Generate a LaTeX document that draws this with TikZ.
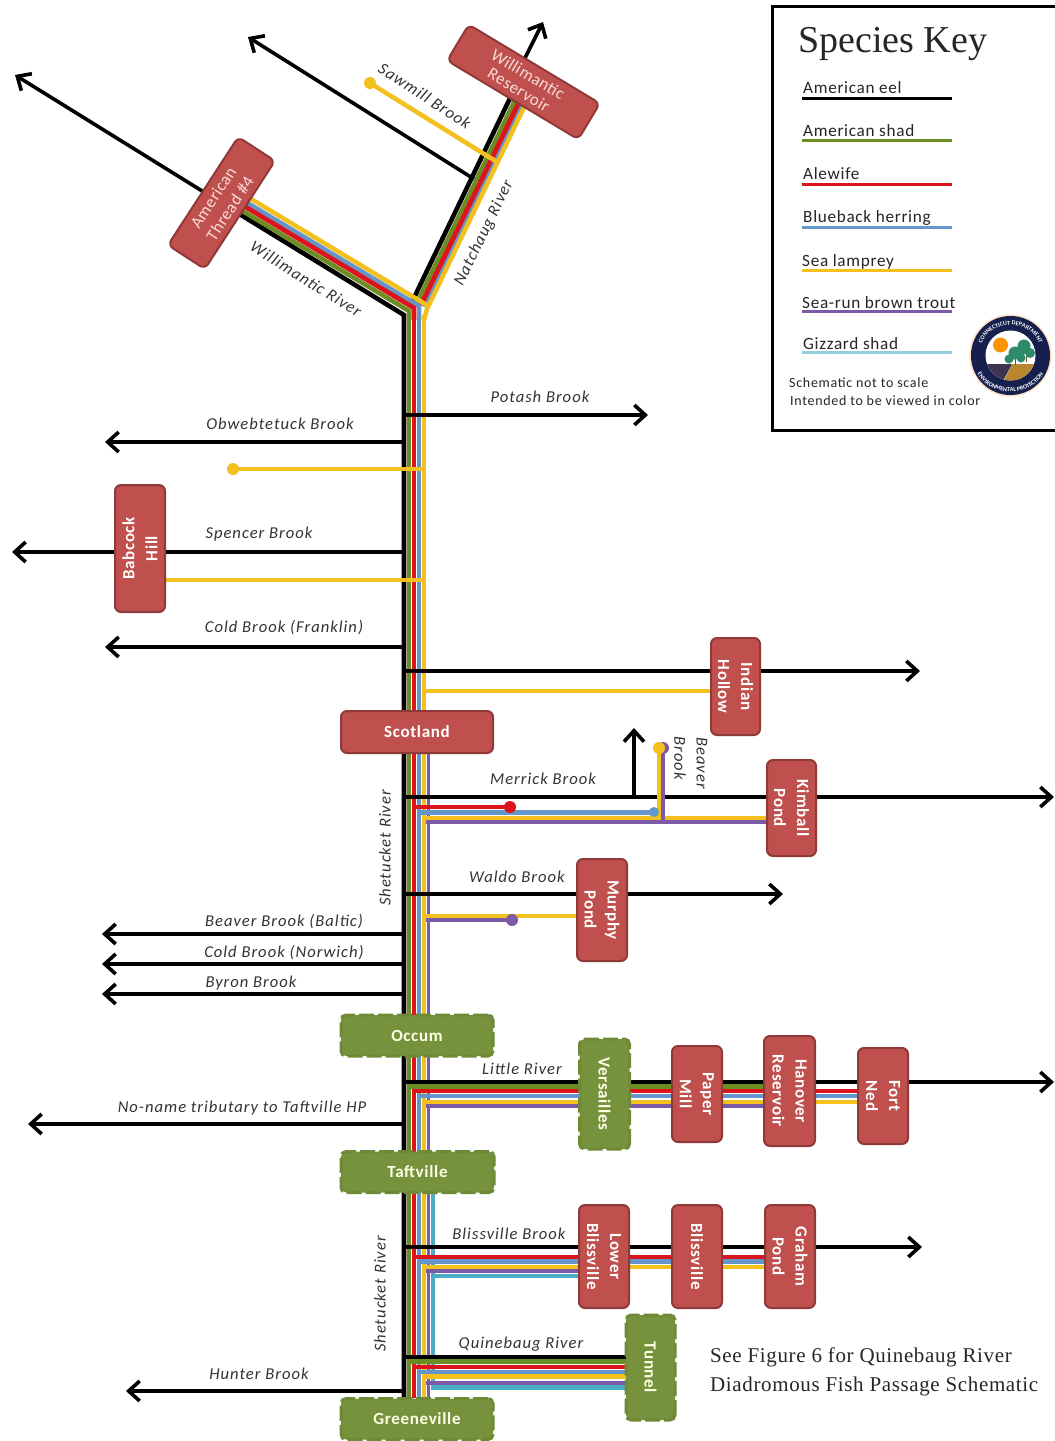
\documentclass[tikz,border=0pt]{standalone}
\usepackage{fontspec}
\setmainfont{Carlito}
\newfontfamily\keyserif{Liberation Serif}
\usetikzlibrary{arrows.meta,backgrounds,decorations.text}
\definecolor{boxfill}{HTML}{C0504D}
\definecolor{boxedge}{HTML}{8F3A38}
\definecolor{gfill}{HTML}{76923C}
\definecolor{gedge}{HTML}{6F8A36}
\definecolor{cgreen}{HTML}{6B8E23}
\definecolor{cred}{HTML}{DC141C}
\definecolor{cblue}{HTML}{6496CC}
\definecolor{cyel}{HTML}{F4C01E}
\definecolor{cpur}{HTML}{7D5AA6}
\definecolor{cgiz}{HTML}{4BACC6}
\definecolor{ckeygiz}{HTML}{92CDDC}
\definecolor{labgray}{HTML}{333333}
\definecolor{paletext}{HTML}{F6DCDA}
\definecolor{seal}{HTML}{16204F}
\definecolor{sealtree}{HTML}{2E8B6A}
\definecolor{sealsoil}{HTML}{B8862D}
\definecolor{sealdark}{HTML}{3C3450}
\tikzset{
  x=1pt,y=-1pt,
  rbox/.style={draw=boxedge,line width=2pt,fill=boxfill,rounded corners=6pt,text=white,align=center,inner sep=0pt,
    font=\fontsize{17}{23}\selectfont\bfseries\addfontfeature{LetterSpace=4}},
  vbox/.style={rbox,rotate=-90},
  tiltbox/.style={rbox,text=paletext,font=\fontsize{17}{20}\selectfont\addfontfeature{LetterSpace=3}},
  gbox/.style={draw=gedge,line width=3pt,dash pattern=on 15pt off 4pt,fill=gfill,rounded corners=5pt,text=white!90!yellow,align=center,inner sep=0pt,
    font=\fontsize{17}{23}\selectfont\bfseries\addfontfeature{LetterSpace=4}},
  lab/.style={text=labgray,inner sep=0pt,font=\fontsize{16.6}{17}\selectfont\itshape\addfontfeature{LetterSpace=6}},
  keylab/.style={anchor=base west,inner sep=0pt,text=black!85,font=\fontsize{17.2}{17}\selectfont\addfontfeature{LetterSpace=4}},
  keynote/.style={keylab,font=\fontsize{14}{14}\selectfont\addfontfeature{LetterSpace=5}},
  seetext/.style={anchor=base west,inner sep=0pt,text=black!85,font=\fontsize{21}{26}\selectfont\keyserif\addfontfeature{LetterSpace=3}},
  keyline/.style={line width=3pt},
  bk/.style={line width=3.6pt,black},
  trunk/.style={line width=4.6pt,black},
  riv/.style={bk,-{Straight Barb[length=11pt,width=20pt]}},
  gl/.style={line width=4.5pt,cgreen,line cap=rect},
  rd/.style={line width=4.8pt,cred,line cap=rect},
  bl/.style={line width=4.5pt,cblue,line cap=rect},
  yl/.style={line width=4.5pt,cyel,line cap=rect},
  pu/.style={line width=3.6pt,cpur,line cap=rect},
  gz/.style={line width=4.2pt,cgiz,line cap=rect},
  enddot/.style={circle,inner sep=0pt,minimum size=12pt},
}
\newcommand{\toNode}[4]{\draw[#1] (#2,#3) -- (#4 |- 0,#3);}
\begin{document}
\begin{tikzpicture}
\path[use as bounding box] (0,0) rectangle (1055,1441);
% ---------- nodes ----------
\node[tiltbox,rotate=57,minimum width=129,minimum height=44] (thread) at (221.5,203) {American\\Thread \#4};
\node[tiltbox,rotate=-31,minimum width=153,minimum height=42,font=\fontsize{17}{18}\selectfont\addfontfeature{LetterSpace=3}] (reservoir) at (523.5,82) {Willimantic\\Reservoir};
\node[vbox,rotate=180,minimum width=127,minimum height=50] (babcock) at (140,548.5) {Babcock\\Hill};
\node[vbox,minimum width=97,minimum height=49] (indian) at (735.5,686.5) {Indian\\Hollow};
\node[rbox,minimum width=152,minimum height=42] (scotland) at (417,732) {Scotland};
\node[vbox,minimum width=96,minimum height=49] (kimball) at (791.5,808) {Kimball\\Pond};
\node[vbox,minimum width=102,minimum height=50] (murphy) at (602,910) {Murphy\\Pond};
\node[gbox,minimum width=152,minimum height=41] (occum) at (417,1035.5) {Occum};
\node[gbox,rotate=-90,minimum width=110,minimum height=50] (versailles) at (604.5,1094) {Versailles};
\node[vbox,minimum width=96,minimum height=50] (paper) at (697,1094) {Paper\\Mill};
\node[vbox,minimum width=110,minimum height=51] (hanover) at (789.5,1091) {Hanover\\Reservoir};
\node[vbox,minimum width=96,minimum height=50] (fort) at (883,1096) {Fort\\Ned};
\node[gbox,minimum width=153,minimum height=41] (taftville) at (417.5,1172) {Taftville};
\node[vbox,minimum width=103,minimum height=50] (lower) at (604,1256.5) {Lower\\Blissville};
\node[vbox,minimum width=103,minimum height=50] (bliss) at (697,1256.5) {Blissville};
\node[vbox,minimum width=103,minimum height=50] (graham) at (790,1256.5) {Graham\\Pond};
\node[gbox,rotate=-90,minimum width=105,minimum height=49] (tunnel) at (650.5,1367.5) {Tunnel};
\node[gbox,minimum width=152,minimum height=41] (greeneville) at (417,1419) {Greeneville};
% ---------- free ends ----------
\coordinate (threadEnd) at (15,75);
\coordinate (sawEnd) at (248,37);
\coordinate (resEnd) at (543,22);
\coordinate (potashEnd) at (648,415);
\coordinate (obwEnd) at (105,442);
\coordinate (spencerEnd) at (12,552);
\coordinate (coldfEnd) at (105,647);
\coordinate (indianEnd) at (920,671);
\coordinate (merrickEnd) at (1054,797);
\coordinate (spurEnd) at (634,728);
\coordinate (waldoEnd) at (783,894);
\coordinate (balticEnd) at (102,934);
\coordinate (norwichEnd) at (102,964);
\coordinate (byronEnd) at (102,994);
\coordinate (littleEnd) at (1054,1082);
\coordinate (nonameEnd) at (28,1124);
\coordinate (blissEnd) at (922,1247);
\coordinate (hunterEnd) at (126,1391);
% ---------- dots ----------
\node[enddot,fill=cyel] (sawDot) at (370,83) {};
\node[enddot,fill=cyel] (franklinDot) at (233,469) {};
\node[enddot,fill=cred] (merrickDot) at (510,807) {};
\node[enddot,fill=cblue,minimum size=10pt] (merrickBlue) at (654,812) {};
\node[enddot,fill=cpur] (beaverPur) at (663,748) {};
\node[enddot,fill=cyel] (beaverYel) at (659,748) {};
\node[enddot,fill=cpur] (waldoDot) at (512,920) {};
% ---------- rivers, behind the nodes ----------
\begin{scope}[on background layer]
\fill[white] (0,0) rectangle (1055,1441);
% Natchaug bundle
\draw[riv] (thread.center) -- (threadEnd);
\draw[riv] (519,70) -- (resEnd);
\draw[riv] (474,179) -- (sawEnd);
\draw[trunk] (412,302) -- (514,90);
\draw[bl,line cap=butt] (424.5,307) -- (524.5,100);
\draw[gl,line cap=butt] (417,303) -- (517,96);
\draw[rd,line cap=butt] (421,305) -- (521,98);
\draw[yl,line cap=butt] (424,320) -- (427,309) -- (529,97);
\draw[yl,line cap=butt] (sawDot.center) -- (497,162);
% Willimantic bundle
\draw[trunk] (thread.center) -- (404,315) -- (404,1397);
\draw[bl,line cap=butt] (226,190) -- (419,306) -- (419,320);
\draw[gl,line cap=butt] (221,198) -- (409,311) -- (409,320);
\draw[rd,line cap=butt] (224,194) -- (414,308) -- (414,320);
\draw[yl,line cap=butt] (228,185) -- (430,307);
% Trunk
\draw[pu,line cap=butt] (428.5,732) -- (428.5,1398);
\draw[gz,line cap=butt] (433,1172) -- (433,1387);
\draw[bl,line cap=butt] (419,315) -- (419,1398);
\draw[gl,line cap=butt] (409,315) -- (409,1398);
\draw[rd,line cap=butt] (414,315) -- (414,1398);
\draw[yl,line cap=butt] (424,315) -- (424,1398);
% West and east tributaries
\draw[riv] (404,415) -- (potashEnd);
\draw[riv] (404,442) -- (obwEnd);
\toNode{yl}{424}{469}{franklinDot}
\draw[riv] (404,552) -- (spencerEnd);
\toNode{yl}{424}{580}{babcock}
\draw[riv] (404,647) -- (coldfEnd);
\draw[riv] (404,671) -- (indianEnd);
\toNode{yl}{424}{691}{indian}
% Merrick
\draw[riv] (404,797) -- (merrickEnd);
\draw[riv] (634,797) -- (spurEnd);
\toNode{bl}{419}{812.5}{merrickBlue}
\toNode{rd}{414}{807}{merrickDot}
\toNode{pu}{428}{822}{kimball}
\toNode{yl}{424}{818}{kimball}
\draw[pu,line cap=butt] (663,822) -- (beaverPur);
\draw[yl,line cap=butt] (659,819) -- (beaverYel);
% Waldo
\draw[riv] (404,894) -- (waldoEnd);
\toNode{pu}{428}{920}{waldoDot}
\toNode{yl}{424}{916}{murphy}
\draw[riv] (404,934) -- (balticEnd);
\draw[riv] (404,964) -- (norwichEnd);
\draw[riv] (404,994) -- (byronEnd);
% Little River
\draw[riv] (404,1082) -- (littleEnd);
\toNode{bl}{419}{1096}{fort}
\toNode{gl}{409}{1086.5}{hanover}
\toNode{rd}{414}{1091}{fort}
\toNode{pu}{428}{1106}{hanover}
\toNode{yl}{424}{1102}{fort}
\draw[riv] (404,1124) -- (nonameEnd);
% Blissville
\draw[riv] (404,1247) -- (blissEnd);
\toNode{bl}{419}{1261.5}{graham}
\toNode{rd}{414}{1257}{graham}
\toNode{gz}{433}{1276}{lower}
\toNode{pu}{428}{1271}{lower}
\toNode{yl}{424}{1267}{graham}
% Quinebaug
\draw[bk] (404,1357) -- (tunnel.center |- 0,1357);
\toNode{bl}{419}{1372}{tunnel}
\toNode{gl}{409}{1361.5}{tunnel}
\toNode{rd}{414}{1367}{tunnel}
\toNode{gz}{433}{1387.5}{tunnel}
\toNode{pu}{428}{1383}{tunnel}
\toNode{yl}{424}{1376.5}{tunnel}
\draw[riv] (404,1391) -- (hunterEnd);
\end{scope}
% ---------- labels ----------
\node[lab,rotate=-33] (lsaw) at (425,96) {Sawmill Brook};
\node[lab,rotate=64] (lnat) at (484,233) {Natchaug River};
\node[lab,rotate=-32] (lwil) at (306,279) {Willimantic River};
\node[lab] (lpot) at (540,397) {Potash Brook};
\node[lab] (lobw) at (280,424) {Obwebtetuck Brook};
\node[lab] (lspe) at (259,534) {Spencer Brook};
\node[lab] (lcf) at (284,628) {Cold Brook (Franklin)};
\node[lab] (lmer) at (543,779) {Merrick Brook};
\node[lab,rotate=-90] (lbb) at (680,758) {Brook};
\node[lab,rotate=-90] (lbv) at (702,763) {Beaver};
\node[lab,rotate=90] (lshe) at (385,848) {Shetucket River};
\node[lab] (lwal) at (517,877) {Waldo Brook};
\node[lab] (lbal) at (284,922) {Beaver Brook (Baltic)};
\node[lab] (lnor) at (284,953) {Cold Brook (Norwich)};
\node[lab] (lbyr) at (251,983) {Byron Brook};
\node[lab] (llit) at (522,1069) {Little River};
\node[lab] (lno) at (242,1108) {No-name tributary to Taftville HP};
\node[lab] (lbli) at (509,1234) {Blissville Brook};
\node[lab,rotate=90] (lshe2) at (380,1294) {Shetucket River};
\node[lab] (lqui) at (521,1344) {Quinebaug River};
\node[lab] (lhun) at (259,1374) {Hunter Brook};
\node[seetext] (lsee) at (710,1362) {See Figure 6 for Quinebaug River};
\node[seetext] (lsee2) at (710,1391) {Diadromous Fish Passage Schematic};
% ---------- key ----------
\draw[black,line width=3pt] (772,430) -- (772,6) -- (1060,6) -- (1060,430) -- cycle;
\node[anchor=base west,inner sep=0pt,font=\fontsize{38}{38}\selectfont\keyserif,text=black!85] (ktitle) at (798,52) {Species Key};
\node[keylab] (k1) at (803,93) {American eel};
\node[keylab] (k2) at (803,136) {American shad};
\node[keylab] (k3) at (803,179) {Alewife};
\node[keylab] (k4) at (803,222) {Blueback herring};
\node[keylab] (k5) at (802,266) {Sea lamprey};
\node[keylab] (k6) at (802,308) {Sea-run brown trout};
\node[keylab] (k7) at (803,349) {Gizzard shad};
\draw[keyline,black] (802,98.5) -- (952,98.5);
\draw[keyline,cgreen] (802,140.5) -- (952,140.5);
\draw[keyline,cred] (802,184.5) -- (952,184.5);
\draw[keyline,cblue] (802,227.5) -- (952,227.5);
\draw[keyline,cyel] (802,270.5) -- (952,270.5);
\draw[keyline,cpur] (802,311.5) -- (952,311.5);
\draw[keyline,ckeygiz] (802,352.5) -- (952,352.5);
\node[keynote] (k8) at (789,387) {Schematic not to scale};
\node[keynote] (k9) at (790,405) {Intended to be viewed in color};
% ---------- seal ----------
\fill[orange!25] (1010.5,355.5) circle (41);
\fill[seal] (1010.5,355.5) circle (39.5);
\fill[white] (1010.5,355.5) circle (25);
\begin{scope}
\clip (1010.5,355.5) circle (25);
\fill[sealdark] (985,364) -- (1012,364) -- (1002,383) -- (985,383) -- cycle;
\fill[sealsoil] (1012,364) -- (1036,364) -- (1036,385) -- (1002,385) -- cycle;
\end{scope}
\fill[orange!85!yellow] (1000.5,345) circle (7.5);
\draw[brown!60!black,line width=1pt] (1015,356) -- (1015,365) (1026,352) -- (1026,362);
\fill[sealtree] (1015,353) circle (6.5) (1009,359) circle (4.5) (1021,358) circle (4.5);
\fill[sealtree] (1024,346) circle (6.5) (1030,353) circle (5) (1021,353) circle (4);
\path[postaction={decorate},decoration={text along path,text align=center,text={|\fontsize{6}{6}\selectfont\bfseries\color{white}|CONNECTICUT DEPARTMENT}}] (980,355) .. controls (980,315) and (1041,315) .. (1041,355);
\path[postaction={decorate},decoration={text along path,text align=center,text={|\fontsize{6}{6}\selectfont\bfseries\color{white}|ENVIRONMENTAL PROTECTION}}] (973,355) .. controls (973,404) and (1048,404) .. (1048,355);
\end{tikzpicture}
\end{document}
